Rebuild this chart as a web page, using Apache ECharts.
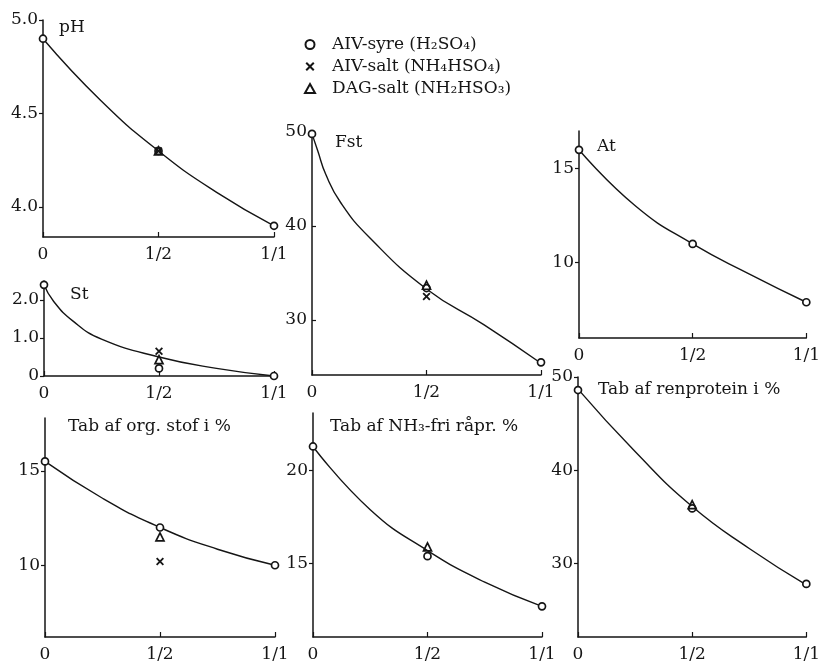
<!DOCTYPE html>
<html>
<head>
<meta charset="utf-8">
<script src="https://cdn.jsdelivr.net/npm/echarts@6/dist/echarts.min.js"></script>
<style>
  html, body { margin: 0; padding: 0; background: #fff; }
  #chart { width: 823px; height: 663px; }
</style>
</head>
<body>
<div id="chart"></div>
<script>
// Shared x positions (acid share) and their tick labels
const xPos = [0, 0.5, 1];
const xTickLabels = ['0', '1/2', '1/1'];

// Series names
const nameSyre = 'AIV-syre (H\u2082SO\u2084)';
const nameSalt = 'AIV-salt (NH\u2084HSO\u2084)';
const nameDag = 'DAG-salt (NH\u2082HSO\u2083)';

// pH
const phSyre = [4.9, 4.3, 3.9];
const phSalt = [4.3];
const phDag = [4.3];
const phCurveX = [0, 0.25, 0.5, 0.75, 1];
const phCurve = [4.9, 4.57, 4.3, 4.08, 3.9];
const phTicks = [4.0, 4.5, 5.0];
const phTickLabels = ['4.0', '4.5', '5.0'];

// St
const stSyre = [2.4, 0.2, 0.0];
const stSalt = [0.65];
const stDag = [0.43];
const stCurveX = [0, 0.04, 0.125, 0.25, 0.5, 0.75, 1];
const stCurve = [2.4, 1.98, 1.45, 0.97, 0.5, 0.2, 0.0];
const stTicks = [0, 1.0, 2.0];
const stTickLabels = ['0', '1.0', '2.0'];

// Fst
const fstSyre = [49.8, 33.4, 25.5];
const fstSalt = [32.5];
const fstDag = [33.7];
const fstCurveX = [0, 0.025, 0.06, 0.125, 0.25, 0.5, 0.75, 1];
const fstCurve = [49.8, 48.0, 45.5, 42.5, 38.8, 33.3, 29.5, 25.4];
const fstTicks = [30, 40, 50];
const fstTickLabels = ['30', '40', '50'];

// At
const atSyre = [16.0, 11.0, 7.9];
const atCurveX = [0, 0.25, 0.5, 0.75, 1];
const atCurve = [16.0, 13.0, 11.0, 9.4, 7.9];
const atTicks = [10, 15];
const atTickLabels = ['10', '15'];

// Tab af org. stof i %
const orgSyre = [15.5, 12.0, 10.0];
const orgSalt = [10.2];
const orgDag = [11.5];
const orgCurveX = [0, 0.25, 0.5, 0.75, 1];
const orgCurve = [15.5, 13.55, 12.0, 10.85, 10.0];
const orgTicks = [10, 15];
const orgTickLabels = ['10', '15'];

// Tab af NH3-fri råpr. %
const nh3Syre = [21.3, 15.4, 12.7];
const nh3Dag = [15.9];
const nh3CurveX = [0, 0.25, 0.5, 0.75, 1];
const nh3Curve = [21.3, 17.9, 15.7, 14.0, 12.7];
const nh3Ticks = [15, 20];
const nh3TickLabels = ['15', '20'];

// Tab af renprotein i %
const renSyre = [48.6, 35.9, 27.8];
const renDag = [36.3];
const renCurveX = [0, 0.25, 0.5, 0.75, 1];
const renCurve = [48.7, 42.0, 36.1, 31.6, 27.7];
const renTicks = [30, 40, 50];
const renTickLabels = ['30', '40', '50'];

const INK = '#151515';
const FONT = '"DejaVu Serif", "Liberation Serif", serif';
const crossPath = 'path://M0,1.6L1.6,0L5,3.4L8.4,0L10,1.6L6.6,5L10,8.4L8.4,10L5,6.6L1.6,10L0,8.4L3.4,5Z';

const panels = [
  { title: 'pH', tx: 59, ty: 19, grid: { left: 43, top: 20, width: 231, height: 217 },
    yMin: 3.84, yMax: 5.0, ticks: phTicks, tickLabels: phTickLabels, tickInside: false,
    curveX: phCurveX, curve: phCurve, syre: phSyre, salt: phSalt, dag: phDag },
  { title: 'St', tx: 70, ty: 286, grid: { left: 44, top: 281, width: 230, height: 95 },
    yMin: 0, yMax: 2.5, ticks: stTicks, tickLabels: stTickLabels, tickInside: false,
    curveX: stCurveX, curve: stCurve, syre: stSyre, salt: stSalt, dag: stDag },
  { title: 'Fst', tx: 335, ty: 134, grid: { left: 312, top: 132, width: 229, height: 243 },
    yMin: 24.15, yMax: 50, ticks: fstTicks, tickLabels: fstTickLabels, tickInside: true,
    curveX: fstCurveX, curve: fstCurve, syre: fstSyre, salt: fstSalt, dag: fstDag },
  { title: 'At', tx: 597, ty: 138, grid: { left: 579, top: 131, width: 229, height: 207 },
    yMin: 6.0, yMax: 17.0, ticks: atTicks, tickLabels: atTickLabels, tickInside: false,
    curveX: atCurveX, curve: atCurve, syre: atSyre, salt: null, dag: null },
  { title: 'Tab af org. stof i %', tx: 68, ty: 418, grid: { left: 45, top: 418, width: 230, height: 221 },
    yMin: 6.2, yMax: 17.8, ticks: orgTicks, tickLabels: orgTickLabels, tickInside: false,
    curveX: orgCurveX, curve: orgCurve, syre: orgSyre, salt: orgSalt, dag: orgDag },
  { title: 'Tab af NH\u2083-fri r\u00e5pr. %', tx: 330, ty: 418, grid: { left: 313, top: 413, width: 229, height: 226 },
    yMin: 11.05, yMax: 23.1, ticks: nh3Ticks, tickLabels: nh3TickLabels, tickInside: false,
    curveX: nh3CurveX, curve: nh3Curve, syre: nh3Syre, salt: null, dag: nh3Dag },
  { title: 'Tab af renprotein i %', tx: 598, ty: 381, grid: { left: 578, top: 377, width: 230, height: 262 },
    yMin: 22.1, yMax: 50, ticks: renTicks, tickLabels: renTickLabels, tickInside: false,
    curveX: renCurveX, curve: renCurve, syre: renSyre, salt: null, dag: renDag }
];

const grids = [], xAxes = [], yAxes = [], series = [], titles = [];

panels.forEach((p, i) => {
  grids.push(Object.assign({ containLabel: false }, p.grid));
  titles.push({
    text: p.title, left: p.tx, top: p.ty, padding: 0,
    textStyle: { fontFamily: FONT, fontSize: 17, fontWeight: 'normal', color: INK }
  });
  xAxes.push({
    type: 'value', gridIndex: i, min: 0, max: 1, interval: 0.5,
    axisLine: { onZero: false, lineStyle: { color: INK, width: 1.5 } },
    axisTick: { inside: true, length: 5, lineStyle: { color: INK, width: 1.2 } },
    axisLabel: {
      margin: 9, color: INK, fontFamily: FONT, fontSize: 17,
      formatter: v => xTickLabels[Math.round(v * 2)]
    },
    splitLine: { show: false }
  });
  yAxes.push({
    type: 'value', gridIndex: i, min: p.yMin, max: p.yMax,
    axisLine: { show: true, onZero: false, lineStyle: { color: INK, width: 1.5 } },
    axisTick: { show: true, inside: p.tickInside, length: 4, customValues: p.ticks,
      lineStyle: { color: INK, width: 1.2 } },
    axisLabel: {
      margin: 5, color: INK, fontFamily: FONT, fontSize: 17, customValues: p.ticks,
      formatter: v => p.tickLabels[p.ticks.indexOf(v)]
    },
    splitLine: { show: false }
  });

  // fitted curve
  series.push({
    type: 'line', xAxisIndex: i, yAxisIndex: i, smooth: 0.5,
    showSymbol: false, silent: true, z: 2,
    lineStyle: { color: INK, width: 1.4 },
    data: p.curveX.map((x, k) => [x, p.curve[k]])
  });
  // measured points
  series.push({
    type: 'scatter', name: nameSyre, xAxisIndex: i, yAxisIndex: i, z: 4,
    symbol: 'circle', symbolSize: 7,
    itemStyle: { color: '#fff', borderColor: INK, borderWidth: 1.7, opacity: 1 },
    data: xPos.map((x, k) => [x, p.syre[k]])
  });
  if (p.salt) {
    series.push({
      type: 'scatter', name: nameSalt, xAxisIndex: i, yAxisIndex: i, z: 5,
      symbol: crossPath, symbolSize: 8,
      itemStyle: { color: INK, opacity: 1 },
      data: p.salt.map(v => [0.5, v])
    });
  }
  if (p.dag) {
    series.push({
      type: 'scatter', name: nameDag, xAxisIndex: i, yAxisIndex: i, z: 5,
      symbol: 'triangle', symbolSize: 8,
      itemStyle: { color: 'rgba(255,255,255,0)', borderColor: INK, borderWidth: 1.7, opacity: 1 },
      data: p.dag.map(v => [0.5, v])
    });
  }
});

const chart = echarts.init(document.getElementById('chart'), null, { renderer: 'canvas' });
chart.setOption({
  backgroundColor: '#fff',
  animation: false,
  title: titles,
  legend: {
    data: [nameSyre, nameSalt, nameDag],
    orient: 'vertical', left: 304, top: 36, itemWidth: 10, itemHeight: 9, itemGap: 5,
    selectedMode: false, padding: 0,
    textStyle: { fontFamily: FONT, fontSize: 17, color: INK, padding: [0, 0, 0, 12] }
  },
  grid: grids,
  xAxis: xAxes,
  yAxis: yAxes,
  series: series
});
</script>
</body>
</html>
